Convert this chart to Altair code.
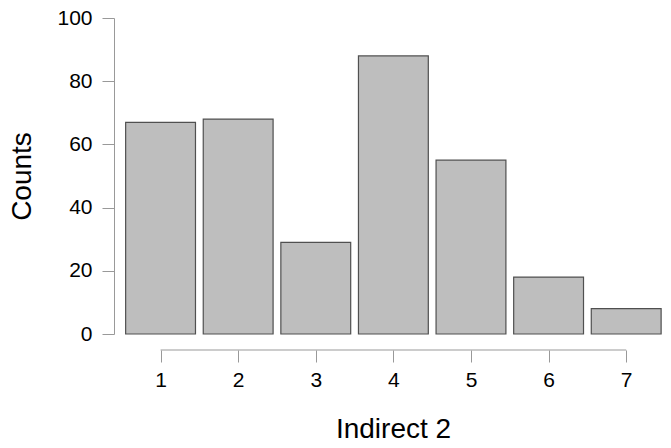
import altair as alt
import pandas as pd

# Response categories on the 1-7 scale and how many answers fell in each
categories = [1, 2, 3, 4, 5, 6, 7]
counts = [67, 68, 29, 88, 55, 18, 8]

df = pd.DataFrame({"cat": categories, "n": counts})

PLOT_W = 551
PLOT_H = 316
X_OFFSET = 16
FONT = "Liberation Sans"
AXIS_GRAY = "#999999"

x_scale = alt.Scale(domain=[0.4, 7.5], nice=False, zero=False)

base = alt.Chart(df)

bars = base.transform_calculate(
    left="datum.cat - 0.45", right="datum.cat + 0.45"
).mark_bar(fill="#bebebe", stroke="#505050", strokeWidth=1.2).encode(
    x=alt.X(
        "left:Q",
        scale=x_scale,
        axis=alt.Axis(
            values=categories,
            format="d",
            domain=False,
            grid=False,
            offset=X_OFFSET,
            tickSize=12,
            tickColor=AXIS_GRAY,
            tickWidth=1,
            labelFontSize=21,
            labelFont=FONT,
            labelColor="black",
            labelPadding=7,
            title="Indirect 2",
            titleFont=FONT,
            titleFontSize=28,
            titleFontWeight="normal",
            titleColor="black",
            titleX=279,
            titleY=87,
            titleAlign="center",
            titleBaseline="alphabetic",
        ),
    ),
    x2="right:Q",
    y=alt.Y(
        "n:Q",
        scale=alt.Scale(domain=[0, 100], nice=False),
        axis=alt.Axis(
            values=[0, 20, 40, 60, 80, 100],
            grid=False,
            domainColor=AXIS_GRAY,
            domainWidth=1,
            tickSize=12,
            tickColor=AXIS_GRAY,
            tickWidth=1,
            labelFontSize=21,
            labelFont=FONT,
            labelColor="black",
            labelPadding=10,
            title="Counts",
            titleFont=FONT,
            titleFontSize=28,
            titleFontWeight="normal",
            titleColor="black",
            titlePadding=20,
        ),
    ),
    y2=alt.datum(0),
)

# x axis line runs only from the first to the last category tick
x_line = base.mark_rule(color=AXIS_GRAY, strokeWidth=1).encode(
    x=alt.X("min(cat):Q", scale=x_scale),
    x2="max(cat):Q",
    y=alt.value(PLOT_H + X_OFFSET),
)

chart = (
    alt.layer(bars, x_line)
    .properties(
        width=PLOT_W,
        height=PLOT_H,
        background="white",
        autosize=alt.AutoSizeParams(type="none"),
        padding={"left": 114, "top": 18, "right": 6, "bottom": 114},
    )
    .configure_view(stroke=None)
)

chart.save("out.html", embed_options={"renderer": "svg", "actions": False})
